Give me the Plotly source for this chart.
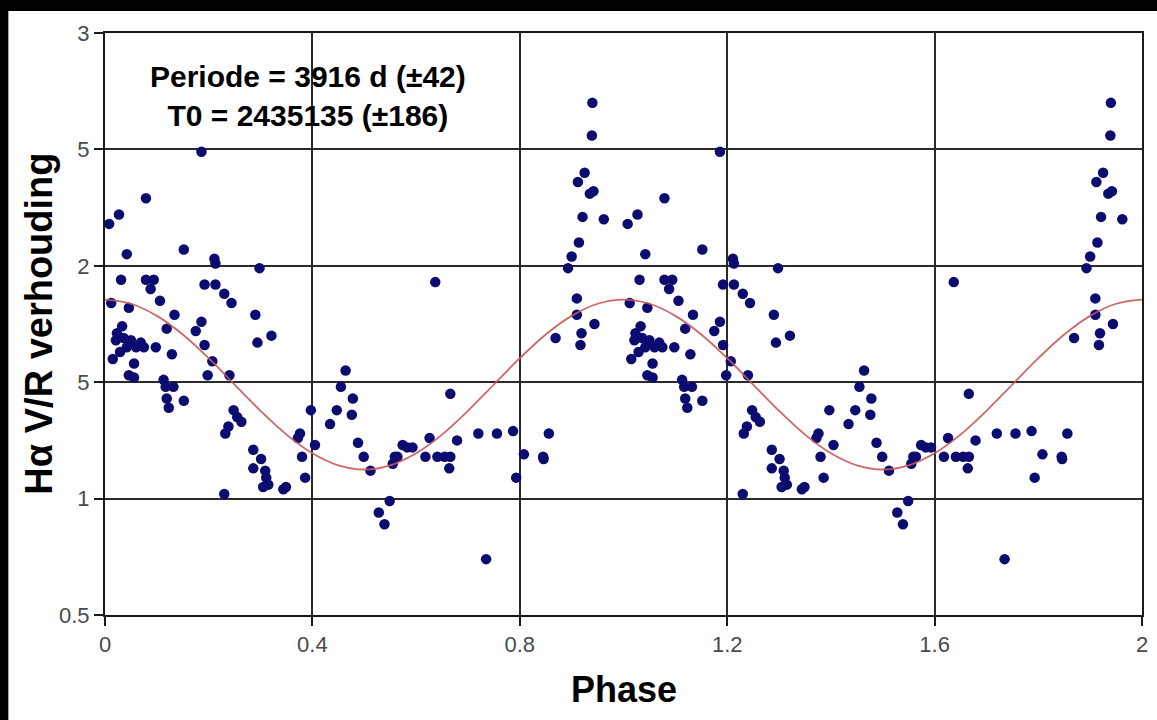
import plotly.graph_objects as go

# Phase (one cycle, 0..1) and H-alpha V/R ratio
phase = [0.008, 0.027, 0.042, 0.079, 0.186, 0.152, 0.211, 0.213, 0.298, 0.031,
         0.079, 0.094, 0.088, 0.106, 0.192, 0.213, 0.230, 0.244, 0.012, 0.046,
         0.134, 0.290, 0.637, 0.119, 0.186, 0.175, 0.033, 0.021, 0.036, 0.042,
         0.029, 0.069, 0.075, 0.060, 0.098, 0.023, 0.050, 0.192, 0.294, 0.321,
         0.015, 0.056, 0.129, 0.207, 0.046, 0.056, 0.113, 0.198, 0.240, 0.464,
         0.117, 0.132, 0.119, 0.123, 0.152, 0.248, 0.255, 0.263, 0.238, 0.232,
         0.230, 0.286, 0.301, 0.286, 0.309, 0.311, 0.305, 0.315, 0.344, 0.349,
         0.397, 0.376, 0.372, 0.405, 0.380, 0.386, 0.455, 0.478, 0.476, 0.447,
         0.434, 0.488, 0.499, 0.512, 0.549, 0.528, 0.539, 0.559, 0.564, 0.555,
         0.574, 0.583, 0.593, 0.626, 0.618, 0.641, 0.655, 0.666, 0.664, 0.666,
         0.679, 0.720, 0.756, 0.787, 0.793, 0.808, 0.845, 0.846, 0.856, 0.735,
         0.869, 0.893, 0.900, 0.914, 0.910, 0.910, 0.919, 0.917, 0.944, 0.921,
         0.962, 0.925, 0.912, 0.942, 0.935, 0.939, 0.940]
ratio = [2.18, 2.22, 2.05, 2.29, 2.49, 2.07, 2.03, 2.01, 1.99, 1.94,
         1.94, 1.94, 1.90, 1.85, 1.92, 1.92, 1.88, 1.84, 1.84, 1.82,
         1.79, 1.79, 1.93, 1.73, 1.76, 1.72, 1.74, 1.68, 1.69, 1.65,
         1.63, 1.67, 1.65, 1.65, 1.65, 1.71, 1.68, 1.66, 1.67, 1.70,
         1.60, 1.58, 1.62, 1.59, 1.53, 1.52, 1.51, 1.53, 1.53, 1.55,
         1.48, 1.48, 1.43, 1.39, 1.42, 1.38, 1.35, 1.33, 1.31, 1.28,
         1.02, 1.21, 1.17, 1.13, 1.12, 1.09, 1.05, 1.06, 1.04, 1.05,
         1.38, 1.28, 1.26, 1.23, 1.18, 1.09, 1.48, 1.43, 1.36, 1.38,
         1.32, 1.24, 1.18, 1.12, 0.99, 0.94, 0.89, 1.18, 1.18, 1.15,
         1.23, 1.22, 1.22, 1.26, 1.18, 1.18, 1.18, 1.18, 1.13, 1.45,
         1.25, 1.28, 1.28, 1.29, 1.09, 1.19, 1.18, 1.17, 1.28, 0.74,
         1.69, 1.99, 2.04, 2.10, 1.86, 1.79, 1.71, 1.66, 1.75, 2.21,
         2.20, 2.40, 2.36, 2.32, 2.31, 2.56, 2.70]

# Fitted curve, read at phase steps of 0.05
curve_phase = [i * 0.05 for i in range(41)]
curve_ratio = [1.855, 1.837, 1.785, 1.705, 1.603, 1.490, 1.377, 1.275, 1.195, 1.143,
               1.125, 1.143, 1.195, 1.275, 1.377, 1.490, 1.603, 1.705, 1.785, 1.837,
               1.855, 1.837, 1.785, 1.705, 1.603, 1.490, 1.377, 1.275, 1.195, 1.143,
               1.125, 1.143, 1.195, 1.275, 1.377, 1.490, 1.603, 1.705, 1.785, 1.837,
               1.855]

x_ticks = [0, 0.4, 0.8, 1.2, 1.6, 2]
x_ticktext = ["0", "0.4", "0.8", "1.2", "1.6", "2"]
y_ticks = [0.5, 1, 1.5, 2, 2.5, 3]
y_ticktext = ["0.5", "1", "5", "2", "5", "3"]

# phase diagram plotted over two cycles
x_all = phase + [p + 1 for p in phase]
y_all = ratio + ratio

tick_font = dict(family="Liberation Sans Narrow, Liberation Sans, Arial, sans-serif",
                 size=22, color="#4a4a4a")

fig = go.Figure()
fig.add_trace(go.Scatter(x=x_all, y=y_all, mode="markers",
                         marker=dict(color="#0c0c70", size=10.5, line=dict(width=0)),
                         showlegend=False, hoverinfo="x+y"))
fig.add_trace(go.Scatter(x=curve_phase, y=curve_ratio, mode="lines",
                         line=dict(color="#c8585a", width=1.8, shape="spline"),
                         opacity=0.9, showlegend=False))

axis_common = dict(showline=True, linecolor="#1a1a1a", linewidth=2, mirror=True,
                   showgrid=True, gridcolor="#2a2a2a", gridwidth=2,
                   ticks="outside", ticklen=9, tickcolor="#1a1a1a", tickwidth=1.5,
                   zeroline=False, tickfont=tick_font, fixedrange=True)

fig.update_xaxes(range=[0, 2], tickvals=x_ticks, ticktext=x_ticktext, **axis_common)
fig.update_yaxes(range=[0.5, 3], tickvals=y_ticks, ticktext=y_ticktext, **axis_common)

fig.update_layout(
    width=1157, height=720,
    margin=dict(l=105, r=9, t=33, b=105),
    paper_bgcolor="white", plot_bgcolor="white",
    annotations=[
        dict(text="<b>Periode = 3916 d (±42)</b><br><b>T0 = 2435135 (±186)</b>",
             xref="paper", yref="paper", x=0.196, y=0.892,
             xanchor="center", yanchor="middle", showarrow=False,
             font=dict(family="Liberation Sans, Arial, sans-serif", size=30, color="black")),
        dict(text="<b>Phase</b>", xref="paper", yref="paper", x=0.5, y=-0.128,
             xanchor="center", yanchor="middle", showarrow=False,
             font=dict(family="Liberation Sans, Arial, sans-serif", size=36, color="black")),
        dict(text="<b>Hα V/R verhouding</b>", xref="paper", yref="paper",
             x=-0.064, y=0.5, xanchor="center", yanchor="middle", textangle=-90,
             showarrow=False,
             font=dict(family="Liberation Sans, Arial, sans-serif", size=38, color="black")),
    ],
    shapes=[
        dict(type="rect", xref="paper", yref="paper", x0=-0.11, x1=1.02,
             y0=1.0376, y1=1.06, fillcolor="black", line=dict(width=0), layer="above"),
        dict(type="rect", xref="paper", yref="paper", x0=-0.11, x1=-0.0932,
             y0=-0.2, y1=1.06, fillcolor="black", line=dict(width=0), layer="above"),
    ],
)

fig.write_html("out.html")
